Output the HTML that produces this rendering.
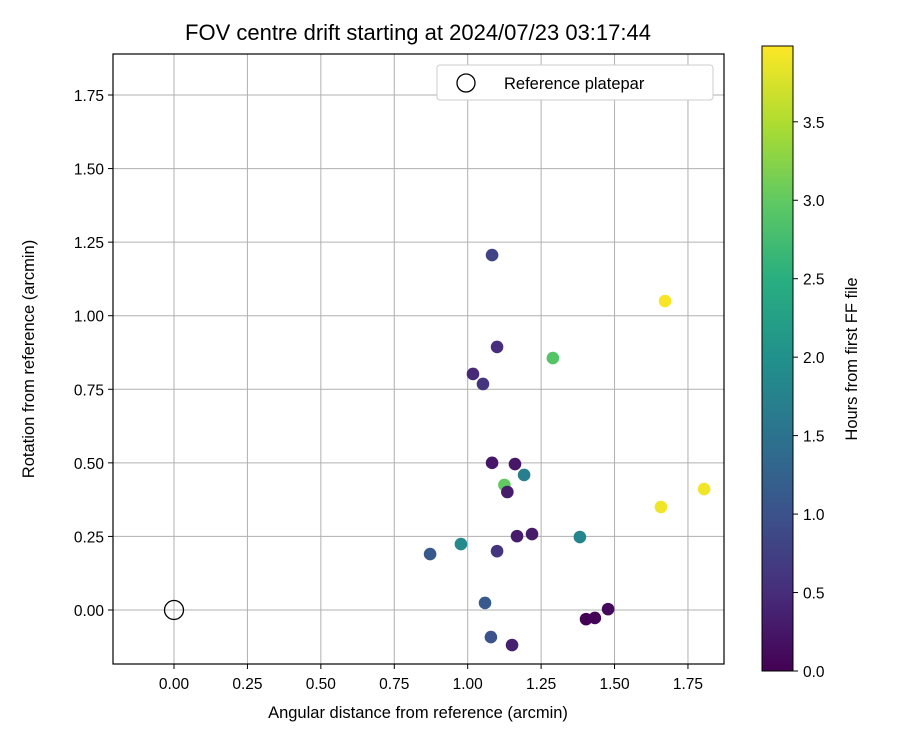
<!DOCTYPE html>
<html><head><meta charset="utf-8"><style>
html,body{margin:0;padding:0;background:#fff;}
svg{display:block;font-family:"Liberation Sans","DejaVu Sans",sans-serif;}
</style></head><body>
<svg id="chart" width="900" height="750" viewBox="0 0 900 750">
<defs>
<linearGradient id="vir" x1="0" y1="1" x2="0" y2="0">
<stop offset="0" stop-color="#440154"/><stop offset="0.125" stop-color="#472d7b"/><stop offset="0.25" stop-color="#3b528b"/><stop offset="0.375" stop-color="#2c728e"/><stop offset="0.5" stop-color="#21918c"/><stop offset="0.625" stop-color="#28ae80"/><stop offset="0.75" stop-color="#5ec962"/><stop offset="0.875" stop-color="#addc30"/><stop offset="1" stop-color="#fde725"/>
</linearGradient>
</defs>
<text x="418" y="40" text-anchor="middle" font-size="22">FOV centre drift starting at 2024/07/23 03:17:44</text>
<g id="grid"></g>
<g id="pts"></g>
<rect x="113" y="54" width="611" height="610" fill="none" stroke="#000" stroke-width="1.2"/>
<g id="ticks"></g>
<text x="418" y="718" text-anchor="middle" font-size="16.5">Angular distance from reference (arcmin)</text>
<text transform="translate(34,359) rotate(-90)" text-anchor="middle" font-size="16.5">Rotation from reference (arcmin)</text>
<g>
<rect x="437" y="65" width="276" height="35" rx="3" fill="#fff" stroke="#ccc"/>
<circle cx="466" cy="83" r="9" fill="none" stroke="#000" stroke-width="1.3"/>
<text x="504" y="89" font-size="16.5">Reference platepar</text>
</g>
<rect x="762" y="46" width="31" height="625" fill="url(#vir)" stroke="#000" stroke-width="1"/>
<g id="cbticks"></g>
<text transform="translate(857,359) rotate(-90)" text-anchor="middle" font-size="16.5">Hours from first FF file</text>
</svg>
<script>
const xValues=[1.083,1.672,1.100,1.290,1.018,1.052,1.083,1.161,1.192,1.125,1.135,1.805,1.658,1.168,1.219,1.382,0.977,0.872,1.100,1.059,1.478,1.403,1.433,1.079,1.151];
const yValues=[1.206,1.050,0.894,0.856,0.802,0.768,0.500,0.496,0.459,0.425,0.401,0.411,0.350,0.251,0.258,0.248,0.224,0.190,0.200,0.024,0.003,-0.031,-0.027,-0.092,-0.119];
const hours=[0.8,3.95,0.5,2.9,0.45,0.6,0.25,0.25,1.7,3.0,0.3,3.9,3.9,0.3,0.3,1.8,1.9,1.1,0.6,1.1,0.1,0.0,0.05,1.0,0.35];
const xTicks=[0,0.25,0.5,0.75,1.0,1.25,1.5,1.75];
const yTicks=[0,0.25,0.5,0.75,1.0,1.25,1.5,1.75];
const cTicks=[0,0.5,1.0,1.5,2.0,2.5,3.0,3.5];
const X0=113,X1=724,Y0=54,Y1=664,XMIN=-0.2077,XMAX=1.8727,YMIN=-0.1835,YMAX=1.8893,CMIN=0,CMAX=3.983;
const sx=v=>X0+(v-XMIN)/(XMAX-XMIN)*(X1-X0);
const sy=v=>Y1-(v-YMIN)/(YMAX-YMIN)*(Y1-Y0);
const sc=v=>671-(v-CMIN)/(CMAX-CMIN)*625;
const NS="http://www.w3.org/2000/svg";
const vir=[[68,1,84],[71,45,123],[59,82,139],[44,114,142],[33,145,140],[40,174,128],[94,201,98],[173,220,48],[253,231,37]];
function color(h){let t=Math.max(0,Math.min(1,(h-CMIN)/(CMAX-CMIN)))*8;let i=Math.min(7,Math.floor(t)),f=t-i;const a=vir[i],b=vir[i+1];return `rgb(${a.map((c,k)=>Math.round(c+(b[k]-c)*f)).join(',')})`;}
function mk(tag,attrs,parent){const e=document.createElementNS(NS,tag);for(const k in attrs)e.setAttribute(k,attrs[k]);parent.appendChild(e);return e;}
const grid=document.getElementById('grid'),ticks=document.getElementById('ticks'),pts=document.getElementById('pts'),cb=document.getElementById('cbticks');
xTicks.forEach(v=>{const x=sx(v);
const l=mk('line',{x1:x,x2:x,y1:Y0,y2:Y1,stroke:'#b0b0b0','stroke-width':1},grid);


const t=mk('line',{x1:x,x2:x,y1:Y1,y2:Y1+5,stroke:'#000'},ticks);


const tx=mk('text',{x:x,y:Y1+25,'text-anchor':'middle','font-size':15.5},ticks);tx.textContent=v.toFixed(2);

});
yTicks.forEach(v=>{const y=sy(v);
const l=mk('line',{x1:X0,x2:X1,y1:y,y2:y,stroke:'#b0b0b0','stroke-width':1},grid);


const t=mk('line',{x1:X0-5,x2:X0,y1:y,y2:y,stroke:'#000'},ticks);


const tx=mk('text',{x:X0-9,y:y+6,'text-anchor':'end','font-size':15.5},ticks);tx.textContent=v.toFixed(2);

});
cTicks.forEach(v=>{const y=sc(v);
const t=mk('line',{x1:793,x2:798,y1:y,y2:y,stroke:'#000'},cb);


const tx=mk('text',{x:803,y:y+6,'font-size':15.5},cb);tx.textContent=v.toFixed(1);

});
const ref=mk('circle',{cx:sx(0),cy:sy(0),r:9.5,fill:'none',stroke:'#000','stroke-width':1.3},pts);


xValues.forEach((v,i)=>{const c=mk('circle',{cx:sx(v),cy:sy(yValues[i]),r:6.3,fill:color(hours[i])},pts);

});
</script>
</body></html>
